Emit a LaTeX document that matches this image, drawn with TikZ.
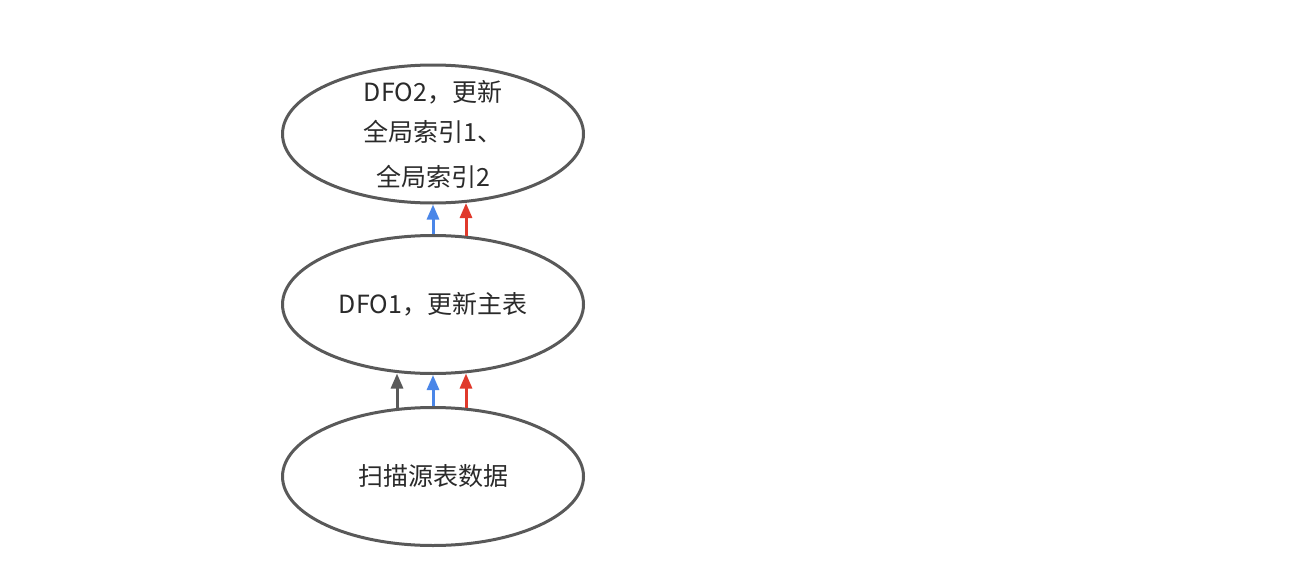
\documentclass[tikz,border=0pt]{standalone}
\usepackage{fontspec}
\setmainfont{Noto Sans CJK SC}
\usetikzlibrary{shapes.geometric,arrows.meta}
\definecolor{edgegray}{HTML}{595959}
\definecolor{txtgray}{HTML}{2A2A2A}
\definecolor{flowblue}{HTML}{4A86E8}
\definecolor{flowred}{HTML}{E0392B}
\tikzset{
  stage/.style={ellipse, draw=edgegray, line width=3pt, minimum width=301pt, minimum height=138pt,
    inner sep=0pt, align=center, text=txtgray, font=\fontsize{25pt}{42pt}\selectfont},
  label/.style={inner sep=0pt, align=center, text=txtgray, font=\fontsize{25pt}{42pt}\selectfont},
  flow/.style={line width=3pt, -{Triangle[length=15pt,width=12pt]}},
}
\begin{document}
\begin{tikzpicture}[x=1pt,y=-1pt]
\useasboundingbox (0,0) rectangle (1310,570);
\node[stage] (top) at (433,134) {};
\node[label] (toptext) at (top.center) {DFO2，更新\\[-2pt]全局索引1、\\[3pt]全局索引2};
\node[stage] (mid) at (433,304.5) {DFO1，更新主表};
\node[stage] (bot) at (433,476.5) {扫描源表数据};
\draw[flow, edgegray] ([xshift=-36pt,yshift=-1.5pt]bot.north) -- ([xshift=-36pt,yshift=1.5pt]mid.south);
\draw[flow, flowblue] (bot.north) -- (mid.south);
\draw[flow, flowred] ([xshift=33pt,yshift=-1.5pt]bot.north) -- ([xshift=33pt,yshift=1.5pt]mid.south);
\draw[flow, flowblue] (mid.north) -- (top.south);
\draw[flow, flowred] ([xshift=33pt,yshift=-1.5pt]mid.north) -- ([xshift=33pt,yshift=1.5pt]top.south);
\end{tikzpicture}
\end{document}
